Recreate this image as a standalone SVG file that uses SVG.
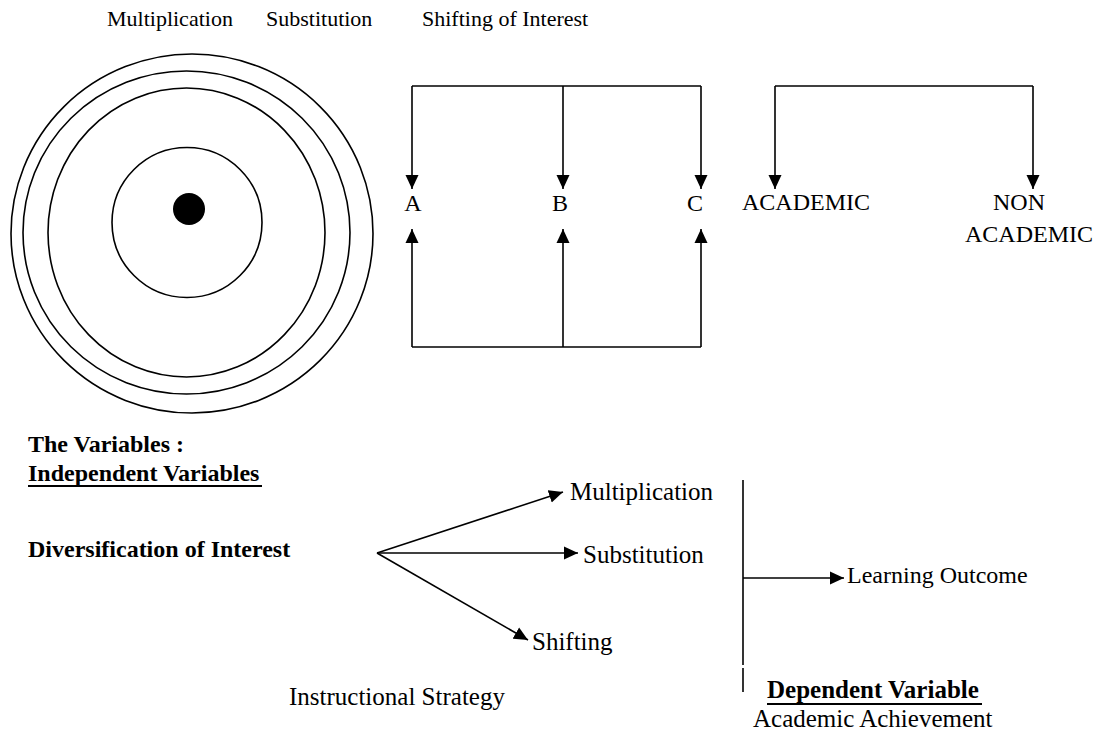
<svg xmlns="http://www.w3.org/2000/svg" width="1102" height="736" viewBox="0 0 1102 736">
<style>
.t{font-family:"Liberation Serif","Times New Roman",serif;fill:#000}
.s22{font-size:22px}
.s24{font-size:24px}
.s25{font-size:25px}
.b{font-weight:bold}
.ln{stroke:#000;stroke-width:1.6;fill:none}
.arr{stroke:#000;stroke-width:1.6;fill:none;marker-end:url(#ah)}
</style>
<defs>
<marker id="ah" markerUnits="userSpaceOnUse" markerWidth="15" markerHeight="14" refX="14" refY="7" orient="auto">
<path d="M0,0.5 L14,7 L0,13.5 z" fill="#000"/>
</marker>
</defs>
<rect width="1102" height="736" fill="#fff"/>

<g id="top-labels">
<text class="t s22" x="107" y="26">Multiplication</text>
<text class="t s22" x="266" y="26">Substitution</text>
<text class="t s22" x="422" y="26">Shifting of Interest</text>
</g>

<g id="circles">
<ellipse class="ln" cx="192" cy="233.5" rx="181" ry="179.5"/>
<ellipse class="ln" cx="186.5" cy="232.5" rx="163.5" ry="161.5"/>
<ellipse class="ln" cx="186.5" cy="232.5" rx="138.5" ry="144.5"/>
<circle class="ln" cx="187" cy="222.5" r="75"/>
<circle cx="189" cy="209" r="16" fill="#000"/>
</g>

<g id="node-A"><text class="t s24" x="413" y="211" text-anchor="middle">A</text></g>
<g id="node-B"><text class="t s24" x="560" y="211" text-anchor="middle">B</text></g>
<g id="node-C"><text class="t s24" x="695" y="211" text-anchor="middle">C</text></g>
<g id="node-academic"><text class="t s24" x="742" y="210">ACADEMIC</text></g>
<g id="node-nonacademic">
<text class="t s24" x="1019" y="210" text-anchor="middle">NON</text>
<text class="t s24" x="1029" y="242" text-anchor="middle">ACADEMIC</text>
</g>

<g id="variables-heading">
<text class="t s24 b" x="28" y="452">The Variables :</text>
<text class="t s24 b" x="28" y="481">Independent Variables</text>
<line x1="28" y1="486" x2="262" y2="486" stroke="#000" stroke-width="2"/>
</g>
<g id="node-diversification"><text class="t s24 b" x="28" y="557">Diversification of Interest</text></g>
<g id="node-multiplication"><text class="t s25" x="570" y="500">Multiplication</text></g>
<g id="node-substitution"><text class="t s25" x="583" y="563">Substitution</text></g>
<g id="node-shifting"><text class="t s25" x="532" y="650">Shifting</text></g>
<g id="node-instructional"><text class="t s25" x="289" y="705">Instructional Strategy</text></g>
<g id="node-learning"><text class="t s24" x="847" y="583">Learning Outcome</text></g>
<g id="node-dependent">
<text class="t s25 b" x="767" y="698">Dependent Variable</text>
<line x1="767" y1="704" x2="982" y2="704" stroke="#000" stroke-width="2"/>
<text class="t s25" x="753" y="727">Academic Achievement</text>
</g>

<g id="connectors">
<polyline class="ln" points="412,86 701,86"/>
<line class="arr" x1="412" y1="86" x2="412" y2="189"/>
<line class="arr" x1="563" y1="86" x2="563" y2="189"/>
<line class="arr" x1="701" y1="86" x2="701" y2="189"/>
<polyline class="ln" points="412,347 701,347"/>
<line class="arr" x1="412" y1="347" x2="412" y2="229"/>
<line class="arr" x1="563" y1="347" x2="563" y2="229"/>
<line class="arr" x1="701" y1="347" x2="701" y2="229"/>
<polyline class="ln" points="775,86 1033,86"/>
<line class="arr" x1="775" y1="86" x2="775" y2="189"/>
<line class="arr" x1="1033" y1="86" x2="1033" y2="189"/>
<line class="arr" x1="377" y1="553" x2="563" y2="492"/>
<line class="arr" x1="377" y1="553" x2="578" y2="553"/>
<line class="arr" x1="377" y1="553" x2="528" y2="640"/>
<line class="ln" x1="743" y1="480" x2="743" y2="665"/>
<line class="ln" x1="743" y1="668" x2="743" y2="692"/>
<line class="arr" x1="743" y1="578" x2="844" y2="578"/>
</g>
</svg>
